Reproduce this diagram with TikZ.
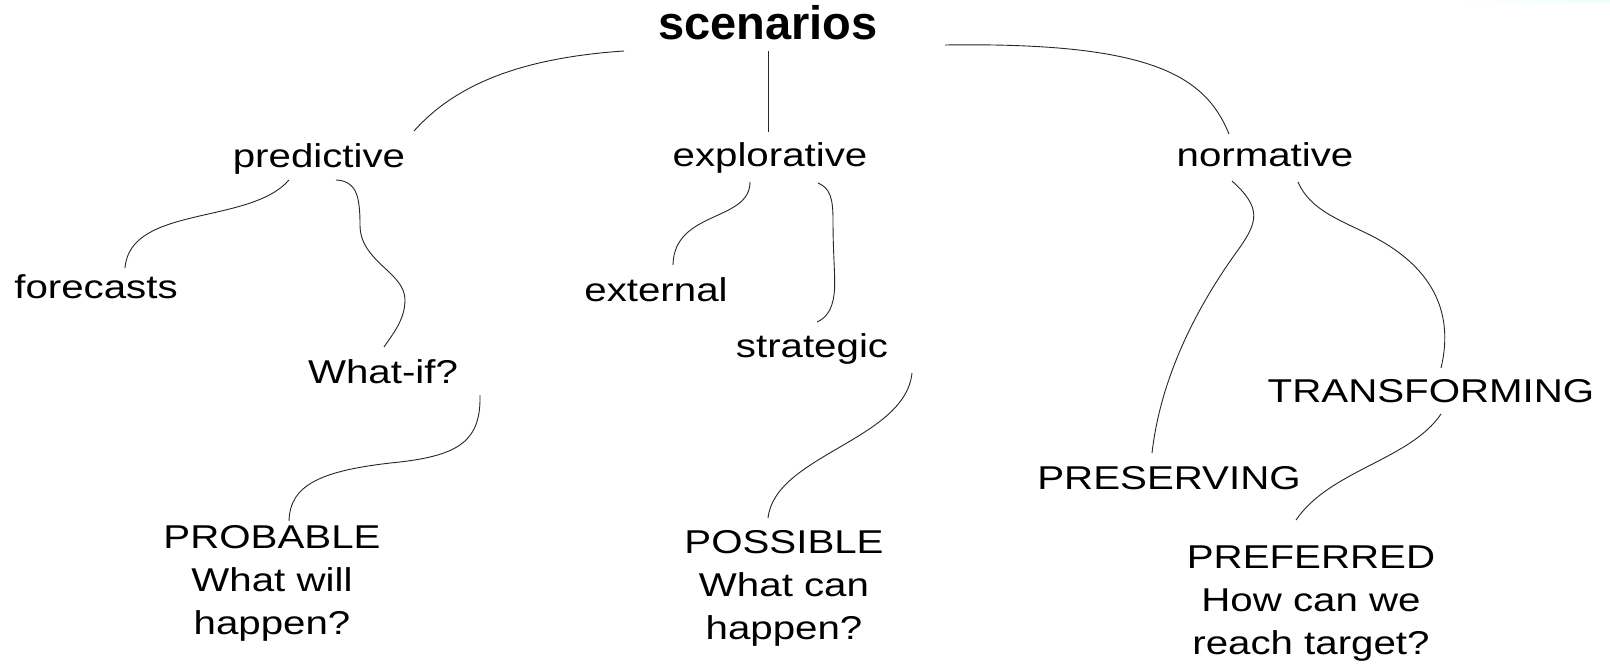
\documentclass[tikz,border=0pt]{standalone}
\usepackage{fontspec}
\setmainfont{Liberation Sans}[FakeStretch=1.22]
\newfontfamily\titlefont{Liberation Sans}
\usetikzlibrary{calc}
\begin{document}
\begin{tikzpicture}[x=1bp,y=-1bp,
  lbl/.style={inner sep=0pt, anchor=base, align=center,
    font=\fontsize{33bp}{43bp}\selectfont},
  ttl/.style={inner sep=0pt, anchor=base,
    font=\titlefont\bfseries\fontsize{47bp}{50bp}\selectfont},
  conn/.style={line width=0.9bp, draw=black!85}]
\useasboundingbox (0,0) rectangle (1610,668);
\fill[white] (0,0) rectangle (1610,668);
\shade[left color=white, right color=cyan!8] (1450,0) rectangle (1610,3);
% nodes (multi-line nodes are anchored at the baseline of their last line)
\node[ttl] (scen) at (768,40) {scenarios};
\node[lbl] (pred) at (319,167) {predictive};
\node[lbl] (expl) at (770,166) {explorative};
\node[lbl] (norm) at (1265,166) {normative};
\node[lbl] (fore) at (96,298) {forecasts};
\node[lbl] (whatif) at (383,383) {What-if?};
\node[lbl] (ext) at (656,301) {external};
\node[lbl] (strat) at (812,357) {strategic};
\node[lbl] (trans) at (1431,402) {TRANSFORMING};
\node[lbl] (pres) at (1169,489) {PRESERVING};
\node[lbl] (prob) at (272,634) {PROBABLE\\What will\\happen?};
\node[lbl] (poss) at (784,639) {POSSIBLE\\What can\\happen?};
\node[lbl] (pref) at (1311,654) {PREFERRED\\How can we\\reach target?};
% connectors
\draw[conn] ($(scen.base)+(-144,11)$) .. controls (520,58) and (455,85) .. ($(pred.base)+(95,-36)$);
\draw[conn] ($(scen.base)+(0,11)$) -- ($(expl.base)+(-2,-34)$);
\draw[conn] ($(scen.base)+(177,5)$) .. controls (1150,42) and (1205,75) .. ($(norm.base)+(-36,-32)$);
\draw[conn] ($(pred.base)+(-30,13)$) .. controls (250,225) and (130,205) .. ($(fore.base)+(29,-30)$);
\draw[conn] ($(pred.base)+(17,13)$) .. controls (356,181) and (360,195) .. (360,225)
  .. controls (360,262) and (405,272) .. (405,300)
  .. controls (405,320) and (392,335) .. ($(whatif.base)+(1,-36)$);
\draw[conn] ($(whatif.base)+(97,12)$) .. controls (481,440) and (460,455) .. (400,462)
  .. controls (320,470) and (290,485) .. ($(prob.base)+(17,-113)$);
\draw[conn] ($(expl.base)+(-20,16)$) .. controls (750,222) and (674,210) .. ($(ext.base)+(17,-36)$);
\draw[conn] ($(expl.base)+(48,17)$) .. controls (830,188) and (833,198) .. (833,220)
  .. controls (833,260) and (836,280) .. (834,295)
  .. controls (832,310) and (826,318) .. ($(strat.base)+(5,-35)$);
\draw[conn] ($(strat.base)+(100,16)$) .. controls (905,440) and (775,455) .. ($(poss.base)+(-16,-121)$);
\draw[conn] ($(norm.base)+(-33,15)$) .. controls (1262,208) and (1258,222) .. (1238,250)
  .. controls (1180,330) and (1158,400) .. ($(pres.base)+(-17,-36)$);
\draw[conn] ($(norm.base)+(33,16)$) .. controls (1310,210) and (1340,220) .. (1370,235)
  .. controls (1430,265) and (1455,310) .. ($(trans.base)+(10,-34)$);
\draw[conn] ($(trans.base)+(10,12)$) .. controls (1410,460) and (1330,470) .. ($(pref.base)+(-15,-134)$);
\end{tikzpicture}
\end{document}
